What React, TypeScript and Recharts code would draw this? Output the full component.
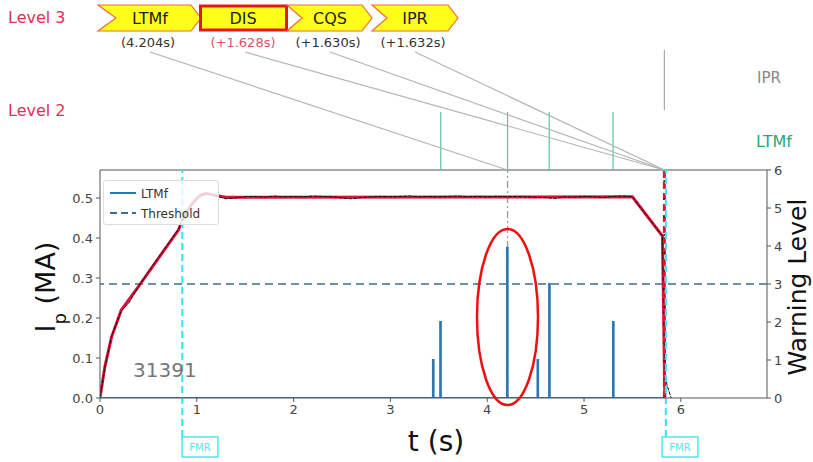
import React from 'react'
import {
  ComposedChart,
  Line,
  XAxis,
  YAxis,
  ReferenceLine,
} from 'recharts'

// plasma current (red, smoothed)
const ipTime = [0, 0.05, 0.12, 0.22, 0.41, 0.81, 0.86, 0.95, 1.03, 1.1, 1.2, 1.3, 5.5, 5.81, 5.835]
const ipValue = [0, 0.078, 0.153, 0.22, 0.283, 0.42, 0.45, 0.485, 0.507, 0.512, 0.506, 0.502, 0.503, 0.405, 0]

// measured current (black, noisy overlay)
const measTime = [
  0, 0.05, 0.12, 0.22, 0.3, 0.41, 0.6, 0.81, 0.9, 1.0, 1.1, 1.2, 1.3, 1.4, 1.5, 1.6, 1.7, 1.8, 1.9, 2.0,
  2.1, 2.2, 2.3, 2.4, 2.5, 2.6, 2.7, 2.8, 2.9, 3.0, 3.1, 3.2, 3.3, 3.4, 3.5, 3.6, 3.7, 3.8, 3.9, 4.0,
  4.1, 4.2, 4.3, 4.4, 4.5, 4.6, 4.7, 4.8, 4.9, 5.0, 5.1, 5.2, 5.3, 5.4, 5.5, 5.6, 5.7, 5.81, 5.835, 5.86, 5.9,
]
const measValue = [
  0, 0.076, 0.155, 0.218, 0.238, 0.284, 0.35, 0.422, 0.47, 0.5, 0.511, 0.505, 0.498, 0.5, 0.503, 0.504, 0.502, 0.505, 0.503, 0.504,
  0.503, 0.505, 0.504, 0.503, 0.5, 0.498, 0.501, 0.503, 0.504, 0.503, 0.504, 0.505, 0.503, 0.504, 0.503, 0.504, 0.505, 0.503, 0.504, 0.503,
  0.504, 0.503, 0.504, 0.503, 0.502, 0.501, 0.499, 0.503, 0.502, 0.504, 0.503, 0.501, 0.504, 0.505, 0.503, 0.47, 0.44, 0.405, 0.06, 0.03, 0,
]

// LTMf warning level
const warnTime = [0, 3.44, 3.44, 3.445, 3.445, 3.515, 3.515, 3.52, 3.52, 4.205, 4.205, 4.21, 4.21, 4.52, 4.52, 4.525, 4.525, 4.64, 4.64, 4.645, 4.645, 5.3, 5.3, 5.305, 5.305, 5.85]
const warnLevel = [0, 0, 1, 1, 0, 0, 2, 2, 0, 0, 3.95, 3.95, 0, 0, 1, 1, 0, 0, 3, 3, 0, 0, 2, 2, 0, 0]

const threshold = 3
const xTicks = [0, 1, 2, 3, 4, 5, 6]
const ipTicks = [0, 0.1, 0.2, 0.3, 0.4, 0.5]
const levelTicks = [0, 1, 2, 3, 4, 5, 6]

// level 2 triggers (LTMf) and the IPR level 3 marker
const level2Times = [3.52, 4.21, 4.64, 5.3]
const iprTime = 5.83
const fmrTimes = [0.85, 5.845]
const disruptTime = 5.83
const ltmfAlarm = 4.21

// level 3 chain
const chainNames = ['LTMf', 'DIS', 'CQS', 'IPR']
const chainTimes = ['(4.204s)', '(+1.628s)', '(+1.630s)', '(+1.632s)']
const chainTargets = [4.21, 5.83, 5.83, 5.83]

const W = 813
const H = 462
const PLOT_L = 100
const PLOT_R = 767
const PLOT_T = 170
const PLOT_B = 398
const T_MAX = 6.89
const IP_MAX = 0.57
const FONT = 'DejaVu Sans, sans-serif'

const tOf = (px: number) => ((px - PLOT_L) / (PLOT_R - PLOT_L)) * T_MAX
const yOf = (py: number) => ((PLOT_B - py) / (PLOT_B - PLOT_T)) * IP_MAX

const ipData = ipTime.map((t, i) => ({ t, ip: ipValue[i] }))
const measData = measTime.map((t, i) => ({ t, ip: measValue[i] }))
const warnData = warnTime.map((t, i) => ({ t, level: warnLevel[i] }))

// chevron boxes of the level 3 row
const boxes = [
  { x0: 98, x1: 201, notch: 18, tip: 10 },
  { x0: 199, x1: 288, notch: 0, tip: 0 },
  { x0: 287, x1: 372, notch: 15, tip: 10 },
  { x0: 372, x1: 458, notch: 15, tip: 10 },
]
const labelX = [150, 245, 330, 415]

function Chevron({ x0, x1, notch, tip, active }: { x0: number; x1: number; notch: number; tip: number; active: boolean }) {
  const y0 = 5
  const y1 = 31
  const ym = (y0 + y1) / 2
  if (active) {
    return <rect x={x0 + 1.5} y={y0 + 1} width={x1 - x0 - 3} height={y1 - y0 - 2} fill="#ffff1a" stroke="#e8141c" strokeWidth={3} />
  }
  const d = `M${x0},${y0} L${x1 - tip},${y0} L${x1},${ym} L${x1 - tip},${y1} L${x0},${y1} L${x0 + notch},${ym} Z`
  return <path d={d} fill="#ffff1a" stroke="#f06a3a" strokeWidth={1.2} />
}

export default function App() {
  return (
    <div style={{ position: 'fixed', left: 0, top: 0, width: W, height: H, background: '#fff', fontFamily: FONT }}>
      <ComposedChart
        width={W}
        height={H}
        margin={{ top: PLOT_T, right: 16, bottom: 34, left: 40 }}
      >
        <XAxis
          type="number"
          dataKey="t"
          domain={[0, T_MAX]}
          ticks={xTicks}
          allowDataOverflow
          height={30}
          tick={{ fontSize: 13, fill: '#444', fontFamily: FONT }}
          tickSize={4}
          tickMargin={3}
          stroke="#555"
        />
        <YAxis
          yAxisId="left"
          type="number"
          domain={[0, IP_MAX]}
          ticks={ipTicks}
          allowDataOverflow
          width={60}
          tickFormatter={(v: number) => v.toFixed(1)}
          tick={{ fontSize: 13, fill: '#444', fontFamily: FONT }}
          tickSize={4}
          tickMargin={3}
          stroke="#555"
        />
        <YAxis
          yAxisId="right"
          orientation="right"
          type="number"
          domain={[0, 6]}
          ticks={levelTicks}
          allowDataOverflow
          width={30}
          tick={{ fontSize: 13, fill: '#444', fontFamily: FONT }}
          tickSize={4}
          tickMargin={3}
          stroke="#555"
        />

        {/* top frame */}
        <ReferenceLine yAxisId="left" y={IP_MAX} stroke="#555" strokeWidth={1} ifOverflow="visible" />

        {/* level 2 row */}
        {level2Times.map((t) => (
          <ReferenceLine
            key={'l2' + t}
            yAxisId="left"
            ifOverflow="visible"
            segment={[{ x: t, y: yOf(112) }, { x: t, y: IP_MAX }]}
            stroke="#56c6a0"
            strokeWidth={1.2}
          />
        ))}
        <ReferenceLine
          yAxisId="left"
          ifOverflow="visible"
          segment={[{ x: iprTime, y: yOf(50) }, { x: iprTime, y: yOf(110) }]}
          stroke="#a8a8a8"
          strokeWidth={1.2}
        />

        {/* links from level 3 labels to triggers */}
        {chainTargets.map((t, i) => (
          <ReferenceLine
            key={'lk' + i}
            yAxisId="left"
            ifOverflow="visible"
            segment={[{ x: tOf(labelX[i]), y: yOf(52) }, { x: t, y: IP_MAX }]}
            stroke="#b4b4b4"
            strokeWidth={1.2}
          />
        ))}

        {/* alarm time of LTMf */}
        <ReferenceLine
          yAxisId="left"
          ifOverflow="visible"
          segment={[{ x: ltmfAlarm, y: 0 }, { x: ltmfAlarm, y: IP_MAX }]}
          stroke="#9a9a9a"
          strokeWidth={1.3}
          strokeDasharray="7 3 2 3"
        />

        <ReferenceLine yAxisId="right" y={threshold} stroke="#3d6d8e" strokeWidth={1.6} strokeDasharray="8 5" />

        <Line
          yAxisId="left"
          data={ipData}
          dataKey="ip"
          type="linear"
          stroke="#e0103a"
          strokeWidth={3}
          dot={false}
          isAnimationActive={false}
        />
        <Line
          yAxisId="left"
          data={measData}
          dataKey="ip"
          type="linear"
          stroke="#111"
          strokeWidth={1}
          strokeDasharray="4 1"
          dot={false}
          isAnimationActive={false}
        />
        <Line
          yAxisId="right"
          data={warnData}
          dataKey="level"
          type="linear"
          stroke="#2a78b4"
          strokeWidth={2.2}
          dot={false}
          isAnimationActive={false}
        />

        {/* disruption time */}
        <ReferenceLine
          yAxisId="left"
          ifOverflow="visible"
          segment={[{ x: disruptTime, y: 0 }, { x: disruptTime, y: IP_MAX }]}
          stroke="#e0143a"
          strokeWidth={3}
          strokeDasharray="7 4"
        />
        <ReferenceLine
          yAxisId="left"
          ifOverflow="visible"
          segment={[{ x: disruptTime, y: 0 }, { x: disruptTime, y: IP_MAX }]}
          stroke="#5a1020"
          strokeWidth={2}
          strokeDasharray="2 16"
        />

        {/* FMR markers */}
        {fmrTimes.map((t) => (
          <ReferenceLine
            key={'fmr' + t}
            yAxisId="left"
            ifOverflow="visible"
            segment={[{ x: t, y: yOf(437) }, { x: t, y: IP_MAX }]}
            stroke="#2ee8ee"
            strokeWidth={2}
            strokeDasharray="7 4"
          />
        ))}
      </ComposedChart>

      {/* legend */}
      <div
        style={{
          position: 'absolute',
          left: 103,
          top: 180,
          width: 116,
          height: 45,
          background: 'rgba(255,255,255,0.82)',
          border: '1px solid #ddd',
          borderRadius: 3,
          boxSizing: 'border-box',
          fontSize: 12,
          color: '#333',
        }}
      >
        <svg width={116} height={45} style={{ position: 'absolute', left: 0, top: 0 }}>
          <line x1={6} x2={32} y1={12} y2={12} stroke="#2a78b4" strokeWidth={2} />
          <line x1={6} x2={32} y1={32} y2={32} stroke="#3d6d8e" strokeWidth={2} strokeDasharray="7 4" />
          <text x={37} y={16.5} fontSize={12} fill="#333" fontFamily={FONT}>LTMf</text>
          <text x={37} y={36.5} fontSize={12} fill="#333" fontFamily={FONT}>Threshold</text>
        </svg>
      </div>

      {/* annotations */}
      <svg width={W} height={H} style={{ position: 'absolute', left: 0, top: 0, pointerEvents: 'none' }} fontFamily={FONT}>
        <text x={8} y={23} fontSize={16} fill="#e0305a">Level 3</text>
        <text x={8} y={116} fontSize={16} fill="#e0305a">Level 2</text>

        {boxes.map((b, i) => (
          <Chevron key={i} {...b} active={i === 1} />
        ))}
        {chainNames.map((n, i) => (
          <text key={n} x={labelX[i] + (i === 1 ? -2 : 0)} y={24} fontSize={16} textAnchor="middle" fill="#222">
            {n}
          </text>
        ))}
        {chainTimes.map((s, i) => (
          <text key={s} x={labelX[i] - 2} y={47} fontSize={13} textAnchor="middle" fill={i === 1 ? '#e0506a' : '#333'}>
            {s}
          </text>
        ))}

        <text x={757} y={83} fontSize={15} fill="#888">IPR</text>
        <text x={756} y={147} fontSize={16} fill="#2aa878">LTMf</text>

        <text x={133} y={377} fontSize={20} fill="#777">31391</text>

        <ellipse cx={507.5} cy={317} rx={30.5} ry={88} fill="none" stroke="#ee1010" strokeWidth={2.5} />

        {fmrTimes.map((t, i) => (
          <g key={'fb' + i}>
            <rect x={i === 0 ? 182 : 662} y={437} width={36} height={20} fill="#fff" stroke="#4ee6ee" strokeWidth={1.5} />
            <text x={i === 0 ? 200 : 680} y={451} fontSize={10} textAnchor="middle" fill="#4ee6ee">FMR</text>
          </g>
        ))}

        <text x={436} y={451} fontSize={28} textAnchor="middle" fill="#111">t (s)</text>
        <text transform="rotate(-90 55 287)" x={55} y={287} fontSize={27} textAnchor="middle" fill="#111">
          I<tspan baselineShift="sub" fontSize={18}>p</tspan> (MA)
        </text>
        <text transform="rotate(-90 806 287)" x={806} y={287} fontSize={25} textAnchor="middle" fill="#111">
          Warning Level
        </text>
      </svg>
    </div>
  )
}
